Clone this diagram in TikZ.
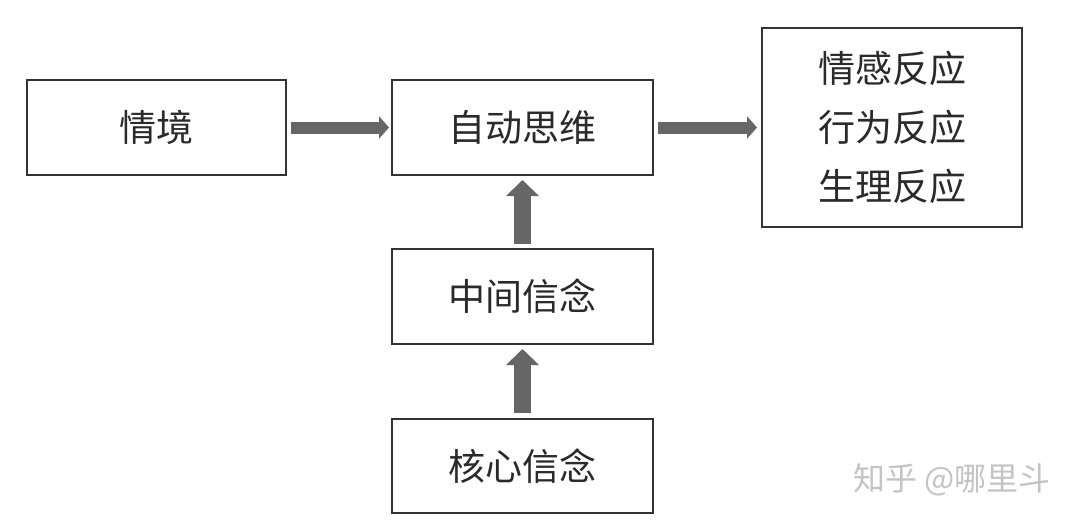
\documentclass[tikz,border=0pt]{standalone}
\usepackage{fontspec}
\newfontfamily\cjk{Noto Sans CJK SC}
\usetikzlibrary{arrows.meta}
\definecolor{boxline}{HTML}{333333}
\definecolor{arrowgray}{HTML}{666666}
\definecolor{txt}{HTML}{2A2A2A}
\definecolor{wm}{HTML}{C4C4C4}
\begin{document}
\begin{tikzpicture}[x=1pt,y=-1pt,
  box/.style={draw=boxline, line width=2pt, rectangle, inner sep=0pt,
    minimum width=261pt, minimum height=95pt, text=txt,
    font=\cjk\fontsize{37}{59}\selectfont},
  harrow/.style={draw=arrowgray, line width=12pt, line cap=butt,
    -{Triangle[length=10pt,width=22pt]}},
  varrow/.style={draw=arrowgray, line width=17pt, line cap=butt,
    -{Triangle[length=16pt,width=32pt]}}
]
\useasboundingbox (0,0) rectangle (1080,525);
\fill[white] (0,0) rectangle (1080,525);
\node[box, minimum width=259pt] (sit) at (156.5,127.5) {情境};
\node[box] (auto) at (522.5,127.5) {自动思维};
\node[box, minimum width=260pt, minimum height=199pt, align=center] (resp) at (892,127.5) {情感反应\\行为反应\\生理反应};
\node[box] (mid) at (522.5,296.5) {中间信念};
\node[box, minimum height=94pt] (core) at (522.5,466) {核心信念};
\draw[harrow, shorten <=4pt, shorten >=2pt] (sit.east) -- (auto.west);
\draw[harrow, shorten <=4pt, shorten >=4pt] (auto.east) -- (resp.west |- auto.east);
\draw[varrow, shorten <=4pt, shorten >=4pt] (mid.north) -- (auto.south);
\draw[varrow, shorten <=5pt, shorten >=4pt] (core.north) -- (mid.south);
\node[text=wm, font=\cjk\fontsize{32}{34}\selectfont, anchor=center] (mark) at (952,480) {知乎 @哪里斗};
\end{tikzpicture}
\end{document}
